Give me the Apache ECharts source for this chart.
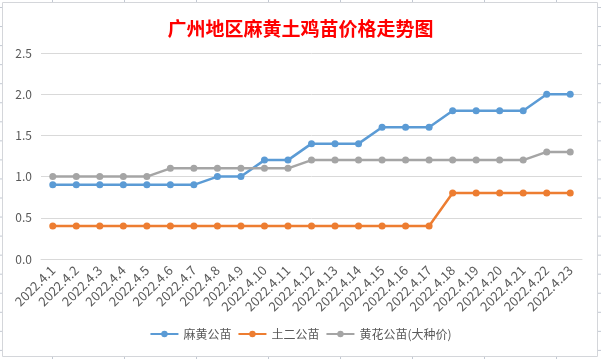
<!DOCTYPE html>
<html><head><meta charset="utf-8">
<script src="https://cdn.jsdelivr.net/npm/echarts@6/dist/echarts.min.js"></script>
<style>html,body{margin:0;padding:0;background:#fff}#c{width:601px;height:359px}</style>
</head><body><div id="c"></div>
<script>
const categories = ['2022.4.1','2022.4.2','2022.4.3','2022.4.4','2022.4.5','2022.4.6','2022.4.7','2022.4.8','2022.4.9','2022.4.10','2022.4.11','2022.4.12','2022.4.13','2022.4.14','2022.4.15','2022.4.16','2022.4.17','2022.4.18','2022.4.19','2022.4.20','2022.4.21','2022.4.22','2022.4.23'];
const mahuang = [0.9,0.9,0.9,0.9,0.9,0.9,0.9,1.0,1.0,1.2,1.2,1.4,1.4,1.4,1.6,1.6,1.6,1.8,1.8,1.8,1.8,2.0,2.0];
const tuer = [0.4,0.4,0.4,0.4,0.4,0.4,0.4,0.4,0.4,0.4,0.4,0.4,0.4,0.4,0.4,0.4,0.4,0.8,0.8,0.8,0.8,0.8,0.8];
const huanghua = [1.0,1.0,1.0,1.0,1.0,1.1,1.1,1.1,1.1,1.1,1.1,1.2,1.2,1.2,1.2,1.2,1.2,1.2,1.2,1.2,1.2,1.3,1.3];
const seriesNames = ['麻黄公苗','土二公苗','黄花公苗(大种价)'];
const colors = ['#5B9BD5','#ED7D31','#A5A5A5'];
const font = '"Microsoft YaHei","Noto Sans CJK SC",sans-serif';

const deco = [];
deco.push({type:'rect',shape:{x:2.5,y:2.5,width:595,height:354},style:{fill:'none',stroke:'#d4d6da',lineWidth:1},silent:true});
for (let i=0;i<19;i++){const y=7.5+i*19.05;
  deco.push({type:'line',shape:{x1:0,y1:y,x2:2,y2:y},style:{stroke:'#c3c9d3',lineWidth:1},silent:true});
  deco.push({type:'line',shape:{x1:598,y1:y,x2:601,y2:y},style:{stroke:'#c3c9d3',lineWidth:1},silent:true});
}
for (let i=0;i<8;i++){const x=52.5+i*72;
  deco.push({type:'line',shape:{x1:x,y1:0,x2:x,y2:2},style:{stroke:'#c3c9d3',lineWidth:1},silent:true});
  deco.push({type:'line',shape:{x1:x,y1:357,x2:x,y2:359},style:{stroke:'#c3c9d3',lineWidth:1},silent:true});
}

const data = [mahuang, tuer, huanghua];
const chart = echarts.init(document.getElementById('c'));
chart.setOption({
  animation:false,
  color:colors,
  title:{text:'广州地区麻黄土鸡苗价格走势图',left:'center',top:14,
    textStyle:{color:'#FF0000',fontSize:19,fontWeight:'bold',fontFamily:'"Noto Sans CJK SC",serif'}},
  legend:{bottom:14,left:'center',itemWidth:28,itemHeight:8,itemGap:6,
    textStyle:{color:'#595959',fontSize:12,fontFamily:font},data:seriesNames},
  grid:{left:41,right:19,top:53,bottom:100},
  xAxis:{type:'category',data:categories,boundaryGap:true,
    axisLine:{show:true,lineStyle:{color:'#d9d9d9'}},axisTick:{show:false},
    axisLabel:{rotate:45,interval:0,color:'#595959',fontSize:13,fontFamily:font,margin:9}},
  yAxis:{type:'value',min:0,max:2.5,interval:0.5,
    axisLine:{show:false},axisTick:{show:false},
    splitLine:{lineStyle:{color:'#d9d9d9'}},
    axisLabel:{color:'#595959',fontSize:12,fontFamily:font,margin:9,formatter:v=>v.toFixed(1)}},
  series:data.map((d,i)=>({name:seriesNames[i],type:'line',data:d,symbol:'circle',symbolSize:7,
    lineStyle:{width:2.5,color:colors[i]},itemStyle:{color:colors[i]}})),
  graphic:deco
});
</script></body></html>
